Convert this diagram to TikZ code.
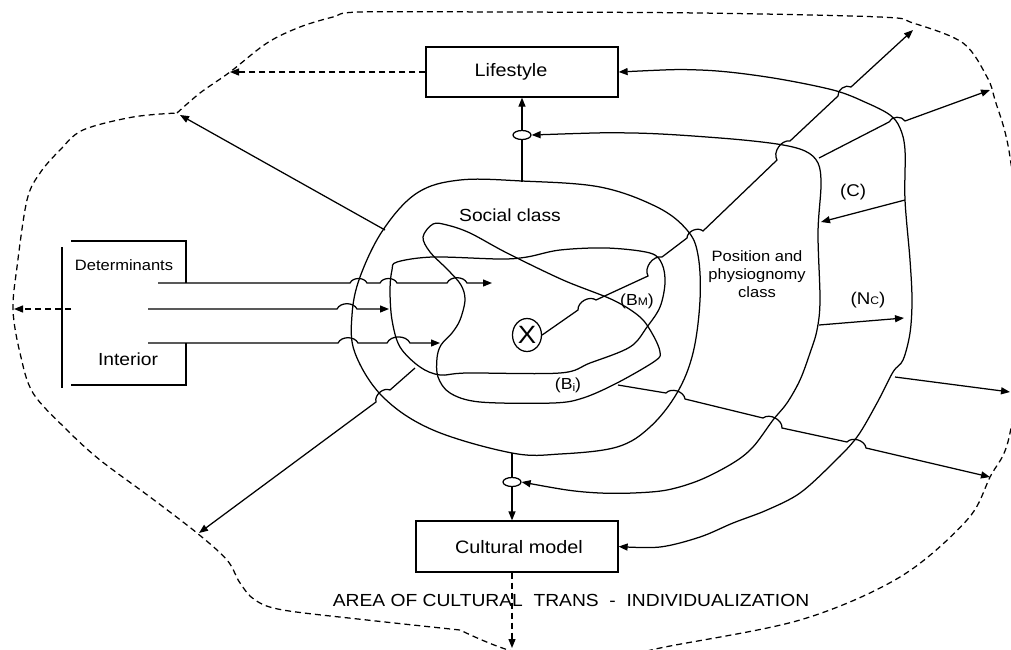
\documentclass[tikz,border=0pt]{standalone}
\usepackage{fontspec}
\setmainfont{Liberation Sans}[FakeStretch=1.1]
\usetikzlibrary{arrows.meta,shapes.geometric}
\begin{document}
\begin{tikzpicture}[x=1pt,y=-1pt,line width=1.25pt,
  arr/.style={-{Triangle[length=9pt,width=7pt]}},
  dsh/.style={dash pattern=on 6pt off 4pt},
  jump/.style={bend left=65},
  jumpr/.style={bend right=65},
  boxnode/.style={draw,rectangle,inner sep=0pt},
  smallell/.style={draw,ellipse,minimum width=18pt,minimum height=9pt,inner sep=0pt},
  lbl/.style={inner sep=0pt,align=center}]
\useasboundingbox (0,0) rectangle (1011,649);
\clip (0,0) rectangle (1011,649);

% outer dashed boundary
\draw[dsh] plot[smooth,tension=0.55] coordinates {(177,113) (200,93) (230,72) (267,43) (300,27) (333,17) (360,12) (500,12) (700,13) (880,17) (913,23) (963,43) (987,77) (995,100) (1010,157) (1025,300) (1010,433) (990,477) (967,520) (900,577) (800,620) (660,648) (590,664) (512,651) (460,630)};
\draw[dsh] plot[smooth,tension=0.55] coordinates {(460,630) (367,620) (283,610) (255,600) (240,583) (227,560) (197,533) (150,497) (100,460) (67,430) (33,393) (20,353) (13,310) (17,267) (27,200) (40,173) (60,150) (83,130) (133,117) (177,113)};

% boxes
\node[boxnode,minimum width=192pt,minimum height=50pt] (life) at (522,72) {};
\node[lbl,font=\fontsize{18}{20}\selectfont] (lifet) at (511,72) {Lifestyle};
\node[boxnode,minimum width=202pt,minimum height=51pt] (cult) at (517,546.5) {};
\node[lbl,font=\fontsize{18}{20}\selectfont] (cultt) at (519,547) {Cultural model};

% determinants bracket
\coordinate (dv1) at (62,247); \coordinate (dv2) at (62,388);
\draw (dv1) -- (dv2);
\draw (71,241) -- (186,241) -- (186,283);
\draw (71,385) -- (186,385) -- (186,343);
\node[lbl,font=\fontsize{15}{17}\selectfont] (det) at (124,265) {Determinants};
\node[lbl,font=\fontsize{17.5}{19}\selectfont] (int) at (128,359) {Interior};
\draw[dsh,arr] (71,309) -- (14,309);

% horizontal arrows
\draw[arr] (158,283) -- (350,283) to[jump] (367,283) -- (380,283) to[jump] (397,283) -- (447,283) to[jump] (467,283) -- (492,283);
\draw[arr] (148,309) -- (337,309) to[jump] (357,309) -- (389,309);
\draw[arr] (148,343) -- (338,343) to[jump] (358,343) -- (387,343) to[jump] (410,343) -- (440,343);

% social class outer loop
\draw plot[smooth cycle,tension=0.6] coordinates {(522,181) (600,187) (657,207) (687,230) (698,255) (700,300) (693,353) (677,393) (650,427) (617,447) (560,454) (512,453) (433,430) (383,397) (355,353) (352,315) (360,277) (383,230) (417,193) (460,180)};
\node[lbl,font=\fontsize{17.5}{19}\selectfont] (soc) at (510,215) {Social class};

% B_M shape
\draw plot[smooth cycle,tension=0.55] coordinates {(397,262) (433,257) (500,259) (527,257) (560,250) (607,248) (650,253) (662,264) (665,283) (660,307) (647,327) (630,347) (590,363) (560,373) (467,373) (440,375) (420,367) (400,347) (392,320) (390,290) (392,270)};
% B_i (lasso) shape
\draw plot[smooth cycle,tension=0.55] coordinates {(433,224) (447,225) (470,233) (507,253) (563,280) (613,300) (640,317) (653,335) (660,352) (655,361) (617,383) (583,398) (553,403) (480,402) (450,393) (438,377) (437,358) (441,345) (452,333) (460,320) (465,300) (461,285) (448,270) (430,252) (423,237)};

% X node
\node[draw,ellipse,minimum width=29pt,minimum height=33pt,inner sep=0pt,font=\fontsize{25}{25}\selectfont] (X) at (527,335) {X};
\node[lbl,font=\fontsize{16}{18}\selectfont] (bm) at (637,301) {(B{\fontsize{11}{11}\selectfont M})};
\node[lbl,font=\fontsize{16}{18}\selectfont] (bi) at (568,385) {(B\raisebox{-2pt}{\fontsize{11}{11}\selectfont i})};

% small ellipses and vertical connectors
\node[smallell] (eu) at (522,135) {};
\node[smallell] (el) at (512,482) {};
\coordinate (soctop) at (522,182);
\coordinate (socbot) at (512,453);
\draw (soctop) -- (eu.south);
\draw[arr] (eu.north) -- (life.south);
\draw (socbot) -- (el.north);
\draw[arr] (el.south) -- (el.south |- cult.north);
\draw[dsh,arr] (life.west) -- (230,72);
\draw[dsh,arr] (el.south |- cult.south) -- (512,648);

% position class curve (C2)
\draw[{Triangle[length=9pt,width=7pt]}-{Triangle[length=9pt,width=7pt]}] plot[smooth,tension=0.55] coordinates {(eu.east) (633,133) (720,138) (777,144) (805,151) (818,163) (821,185) (818,233) (820,300) (817,330) (810,353) (800,380) (787,403) (773,420) (753,447) (733,463) (700,480) (667,490) (633,493) (600,493) (567,490) (el.east)};
\node[lbl,font=\fontsize{15}{18}\selectfont] (pos) at (757,274) {Position and\\physiognomy\\class};

% outer curve C3
\draw[{Triangle[length=9pt,width=7pt]}-{Triangle[length=9pt,width=7pt]}] plot[smooth,tension=0.55] coordinates {(life.east) (700,70) (767,77) (833,90) (867,103) (890,115) (900,128) (905,150) (905,200) (910,260) (912,300) (910,333) (903,360) (893,372) (877,403) (857,437) (833,463) (800,493) (767,510) (733,523) (700,537) (660,547) (cult.east)};

% arrows on the right
\draw[arr] (X.east) -- (578,310) to[jump] (596,300) -- (648,276) to[jump] (662,257) -- (687,238) to[jump] (703,231) -- (777,160) to[jump] (790,141) -- (838,96) to[jump] (851,87) -- (913,30);
\draw[arr] (819,158) -- (889,122) to[jump] (905,121) -- (990,90);
\draw[arr] (905,200) -- (821,222);
\node[lbl,font=\fontsize{17}{19}\selectfont] (c) at (853,192) {(C)};
\draw[arr] (819,325) -- (904,318);
\node[lbl,font=\fontsize{17}{19}\selectfont] (nc) at (868,300) {(N{\fontsize{11}{11}\selectfont C})};
\draw[arr] (895,377) -- (1010,392);
\draw[arr] (618,385) -- (666,393) to[jump] (685,399) -- (763,418) to[jump] (782,428) -- (847,442) to[jump] (866,448) -- (990,477);

% arrows on the left
\draw[arr] (385,230) -- (180,115);
\draw[arr] (415,368) -- (390,390) to[jumpr] (376,402) -- (199,533);

\node[lbl,font=\fontsize{17.5}{19}\selectfont] (area) at (571,600) {AREA OF CULTURAL\ \ TRANS\ \ -\ \ INDIVIDUALIZATION};
\end{tikzpicture}
\end{document}
